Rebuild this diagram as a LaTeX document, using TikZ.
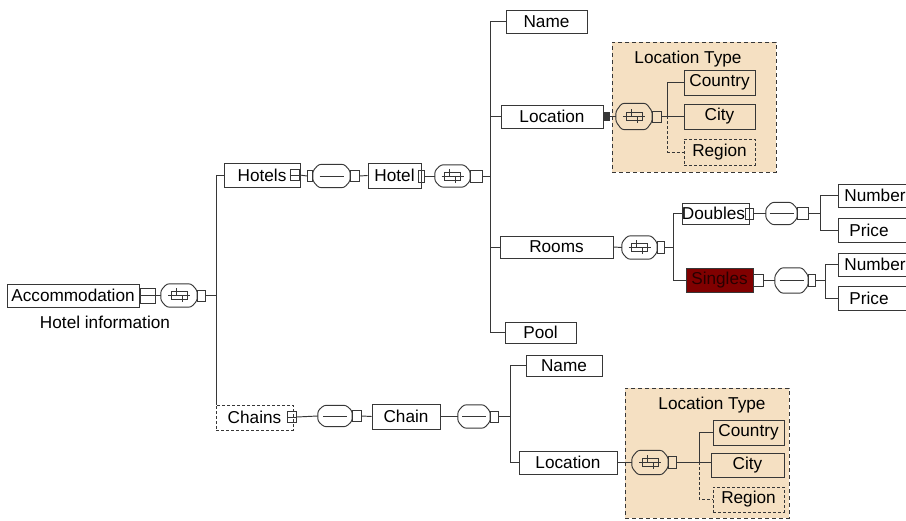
\documentclass[tikz,border=0pt]{standalone}
\usepackage{fontspec}
\setmainfont{Liberation Sans}
\usetikzlibrary{calc}
\definecolor{bgc}{RGB}{245,224,194}
\definecolor{ln}{RGB}{55,55,55}
\definecolor{dred}{RGB}{128,0,0}
\tikzset{
  el/.style={draw=ln, line width=0.95pt, inner sep=0pt, font=\fontsize{17.2}{19}\selectfont, text=black},
  opt/.style={el, dashed, dash pattern=on 3pt off 2pt},
  txt/.style={inner sep=0pt, font=\fontsize{17.2}{19}\selectfont, text=black},
  sq/.style={draw=ln, line width=0.95pt, inner sep=0pt, minimum width=8, minimum height=11},
  hole/.style={inner sep=0pt, minimum width=36, minimum height=23},
  bgbox/.style={draw=ln, fill=bgc, line width=0.95pt, dashed, dash pattern=on 4pt off 3pt, inner sep=0pt},
  conn/.style={draw=ln, line width=0.95pt},
  dconn/.style={conn, dashed, dash pattern=on 3pt off 2pt},
}
\newcommand\octa[1]{%
  \draw[conn, rounded corners=2.5pt] ($(#1.west)+(0,-5)$) -- ($(#1.north west)+(6,0)$) -- ($(#1.north east)+(-6,0)$) -- ($(#1.east)+(0,-5)$) -- ($(#1.east)+(0,5)$) -- ($(#1.south east)+(-6,0)$) -- ($(#1.south west)+(6,0)$) -- ($(#1.west)+(0,5)$) -- cycle;}
\newcommand\seqsym[1]{%
  \octa{#1}%
  \begin{scope}[shift={(#1.center)}]
    \draw[conn, line width=0.8pt] (-8,-4) rectangle (8,4);
    \draw[conn, line width=0.8pt] (-11,0) -- (11,0);
    \draw[conn, line width=0.8pt] (-3,-7) -- (-3,0);
    \draw[conn, line width=0.8pt] (3,0) -- (3,7);
  \end{scope}}
\newcommand\linesym[1]{%
  \octa{#1}%
  \begin{scope}[shift={(#1.center)}]
    \draw[conn, line width=0.8pt] (-12,0) -- (12,0);
  \end{scope}}
\begin{document}
\begin{tikzpicture}[x=1pt,y=-1pt]
\useasboundingbox (0,0) rectangle (906,521);
\clip (0,0) rectangle (906,521);
% ---------- backgrounds ----------
\node[bgbox, minimum width=164, minimum height=130] (bg1) at (694,107) {};
\node[txt] (lt1) at (688,59) {Location Type};
\node[bgbox, minimum width=164, minimum height=130] (bg2) at (707,453) {};
\node[txt] (lt2) at (712,405) {Location Type};
% ---------- root ----------
\node[el, minimum width=132, minimum height=23] (acc) at (73,295.5) {Accommodation};
\node[txt] (hi) at (105,322) {Hotel information};
\node[sq, minimum width=15, minimum height=15] (accsq) at (147.5,295.5) {};
\node[hole] (acccomp) at (179,295.5) {};
\seqsym{acccomp}
\node[sq] (accsq2) at (201,295.5) {};
\coordinate (t1) at (216,295.5);
\draw[conn] (acc.east) -- (acccomp.west);
\draw[conn] (accsq2.east) -- (t1);
% ---------- Hotels ----------
\node[el, minimum width=76, minimum height=24] (hotels) at (262,175) {Hotels\hspace{8pt}};
\node[sq, minimum width=9, minimum height=11] (hotelssq) at (294.5,175) {};
\draw[conn, line width=0.8pt] (hotelssq.west) -- (hotelssq.east);
\node[sq, minimum width=5, minimum height=11] (hsq0) at (310,176) {};
\node[hole, minimum width=37] (hcomp) at (331.5,176) {};
\linesym{hcomp}
\node[sq, minimum width=9, minimum height=11] (hsq1) at (354.5,176) {};
\node[el, minimum width=53, minimum height=25] (hotel) at (394.5,175.5) {Hotel\hspace{5pt}};
\node[sq, minimum width=6, minimum height=12] (hotelsq) at (421,176) {};
\node[hole, minimum width=35, minimum height=22] (hcomp2) at (452.5,176) {};
\seqsym{hcomp2}
\node[sq, minimum width=12, minimum height=12] (hsq2) at (476,176) {};
\coordinate (t2) at (490,176);
\draw[conn] (hotelssq.east) -- (hsq0.west);
\draw[conn] (hsq1.east) -- (hotel.west);
\draw[conn] (hotelsq.east) -- (hcomp2.west);
\draw[conn] (hsq2.east) -- (t2);
% ---------- Hotel children ----------
\node[el, minimum width=81, minimum height=23] (name1) at (546.5,21.5) {Name};
\node[el, minimum width=102, minimum height=23] (loc1) at (552,116.5) {Location};
\node[el, minimum width=113, minimum height=22] (rooms) at (556.5,247) {Rooms};
\node[el, minimum width=71, minimum height=21] (pool) at (540.5,332.5) {Pool};
\draw[conn] (t2 |- name1.west) -- (t2 |- pool.west);
\draw[conn] (t2 |- name1.west) -- (name1.west);
\draw[conn] (t2 |- loc1.west) -- (loc1.west);
\draw[conn] (t2 |- rooms.west) -- (rooms.west);
\draw[conn] (t2 |- pool.west) -- (pool.west);
% ---------- Location type 1 ----------
\node[sq, fill=ln, minimum width=6, minimum height=8] (lfs1) at (606,116.5) {};
\node[hole, minimum height=26] (lcomp1) at (634,116.5) {};
\seqsym{lcomp1}
\node[sq, minimum width=9, minimum height=11] (lsq1) at (656.5,116.5) {};
\coordinate (v1) at (667,116.5);
\node[el, fill=bgc, minimum width=71, minimum height=25] (country1) at (719.5,82.5) {Country};
\node[el, fill=bgc, minimum width=71, minimum height=25] (city1) at (719.5,116.5) {City};
\node[opt, fill=bgc, minimum width=71, minimum height=26] (region1) at (719.5,152) {Region};
\draw[conn] (lfs1.east) -- (lcomp1.west);
\draw[conn] (lsq1.east) -- (city1.west);
\draw[conn] (v1 |- city1.west) -- (v1 |- country1.west) -- (country1.west);
\draw[dconn] (v1 |- city1.west) -- (v1 |- region1.west) -- (region1.west);
% ---------- Rooms ----------
\node[hole, minimum width=35, minimum height=23] (rcomp) at (639.5,247.5) {};
\seqsym{rcomp}
\node[sq, minimum width=7, minimum height=12] (rsq) at (660.5,247.5) {};
\coordinate (v2) at (673,247.5);
\draw[conn] (rooms.east) -- (rcomp.west);
\draw[conn] (rsq.east) -- (v2);
\node[el, minimum width=67, minimum height=21] (doubles) at (715.5,213.5) {\hspace{-4pt}Doubles};
\node[sq, minimum width=8, minimum height=11] (dsq0) at (749,213.5) {};
\node[hole, minimum width=31, minimum height=22] (dcomp) at (781.5,213.5) {};
\linesym{dcomp}
\node[sq, minimum width=11, minimum height=12] (dsq1) at (802.5,213.5) {};
\coordinate (v3) at (820,213.5);
\node[el, fill=dred, minimum width=67, minimum height=24] (singles) at (719.5,280) {\textcolor[RGB]{40,0,0}{Singles}};
\node[sq, minimum width=10, minimum height=12] (ssq0) at (758,280.5) {};
\node[hole, minimum width=33, minimum height=25] (scomp) at (791.5,280.5) {};
\linesym{scomp}
\node[sq, minimum width=7, minimum height=12] (ssq1) at (811.5,280.5) {};
\coordinate (v4) at (825,280.5);
\draw[conn] (v2 |- doubles.west) -- (v2 |- singles.west);
\draw[conn] (v2 |- doubles.west) -- (doubles.west);
\draw[conn] (v2 |- singles.west) -- (singles.west);
\draw[conn] (dsq0.east) -- (dcomp.west);
\draw[conn] (dsq1.east) -- (v3);
\draw[conn] (ssq0.east) -- (scomp.west);
\draw[conn] (ssq1.east) -- (v4);
\node[el, minimum width=74, minimum height=23] (num1) at (875,195.5) {Number};
\node[el, minimum width=74, minimum height=24] (price1) at (875,230) {\hspace{-12pt}Price};
\node[el, minimum width=74, minimum height=23] (num2) at (875,264.5) {Number};
\node[el, minimum width=74, minimum height=24] (price2) at (875,298) {\hspace{-12pt}Price};
\draw[conn] (v3 |- num1.west) -- (v3 |- price1.west);
\draw[conn] (v3 |- num1.west) -- (num1.west);
\draw[conn] (v3 |- price1.west) -- (price1.west);
\draw[conn] (v4 |- num2.west) -- (v4 |- price2.west);
\draw[conn] (v4 |- num2.west) -- (num2.west);
\draw[conn] (v4 |- price2.west) -- (price2.west);
% ---------- Chains ----------
\node[opt, minimum width=77, minimum height=25] (chains) at (254.5,417.5) {Chains\hspace{8pt}};
\node[sq, minimum width=9, minimum height=11] (chainssq) at (292,417) {};
\draw[conn, line width=0.8pt] (chainssq.west) -- (chainssq.east);
\draw[conn] (t1 |- hotels.west) -- (t1 |- chains.north);
\draw[conn] (t1 |- hotels.west) -- (hotels.west);
\node[hole, minimum width=34, minimum height=21] (ccomp) at (335,416) {};
\linesym{ccomp}
\node[sq, minimum width=9, minimum height=11] (csq1) at (356.5,416) {};
\node[el, minimum width=68, minimum height=25] (chain) at (406,416.5) {Chain};
\node[hole, minimum width=32, minimum height=23] (ccomp2) at (474,416.5) {};
\linesym{ccomp2}
\node[sq, minimum width=8, minimum height=11] (csq2) at (494,416.5) {};
\coordinate (t3) at (510,416.5);
\draw[conn] (chainssq.east) -- (ccomp.west);
\draw[conn] (csq1.east) -- (chain.west);
\draw[conn] (chain.east) -- (ccomp2.west);
\draw[conn] (csq2.east) -- (t3);
\node[el, minimum width=76, minimum height=21] (name2) at (564,365.5) {Name};
\node[el, minimum width=98, minimum height=23] (loc2) at (568,462.5) {Location};
\draw[conn] (t3 |- name2.west) -- (t3 |- loc2.west);
\draw[conn] (t3 |- name2.west) -- (name2.west);
\draw[conn] (t3 |- loc2.west) -- (loc2.west);
% ---------- Location type 2 ----------
\node[hole, minimum width=36, minimum height=24] (lcomp2) at (650,462.5) {};
\seqsym{lcomp2}
\node[sq, minimum width=8, minimum height=12] (lsq2) at (672,462.5) {};
\coordinate (v5) at (699,462.5);
\node[el, fill=bgc, minimum width=71, minimum height=25] (country2) at (748.5,432.5) {Country};
\node[el, fill=bgc, minimum width=73, minimum height=24] (city2) at (747.5,465) {City};
\node[opt, fill=bgc, minimum width=71, minimum height=25] (region2) at (748.5,499.5) {Region};
\draw[conn] (loc2.east) -- (lcomp2.west);
\draw[conn] (lsq2.east) -- (city2.west |- lsq2.east);
\draw[conn] (v5) -- (v5 |- country2.west) -- (country2.west);
\draw[dconn] (v5) -- (v5 |- region2.west) -- (region2.west);
\end{tikzpicture}
\end{document}
